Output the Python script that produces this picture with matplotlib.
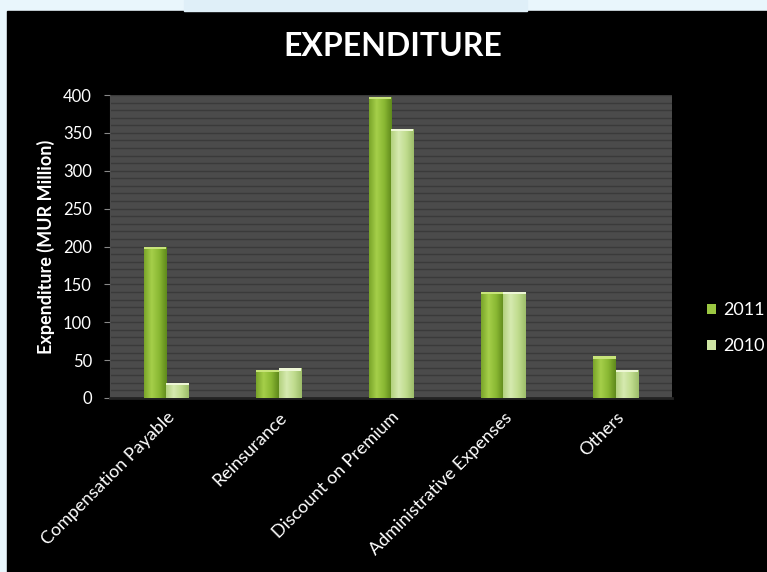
import matplotlib.pyplot as plt
import numpy as np
from matplotlib.patches import Rectangle
from matplotlib.colors import LinearSegmentedColormap

categories = ['Compensation Payable', 'Reinsurance', 'Discount on Premium',
              'Administrative Expenses', 'Others']
exp_2011 = [200, 37, 398, 140, 55]
exp_2010 = [20, 39, 355, 140, 37]
series_names = ['2011', '2010']

plt.rcParams['font.family'] = ['Lato', 'DejaVu Sans']

W, H = 767, 572
fig = plt.figure(figsize=(W / 100, H / 100), dpi=100)
fig.patch.set_facecolor('#e9f6fc')
# black slide panel behind the chart
fig.patches.append(Rectangle((7 / W, 0), 1, (H - 11) / H, transform=fig.transFigure,
                             color='black', zorder=-2))
fig.patches.append(Rectangle((184 / W, (H - 11) / H), (527 - 184) / W, 11 / H,
                             transform=fig.transFigure, color='#dfeff8', zorder=-2))

ax = fig.add_axes([110 / W, 1 - 398 / H, (672 - 110) / W, (398 - 95) / H])
ax.set_facecolor('#4b4b4b')

x = np.arange(len(categories))
w = 0.2
cmap11 = LinearSegmentedColormap.from_list('g11', ['#7aa52a', '#a5cf4a', '#8ab833', '#5f8a1c'])
cmap10 = LinearSegmentedColormap.from_list('g10', ['#b3d17e', '#d6eab0', '#c0dc8e', '#9dbd6a'])
grad = np.linspace(0, 1, 64).reshape(1, -1)

for vals, off, cm, cap, name in [(exp_2011, -w / 2, cmap11, '#c8e47a', series_names[0]),
                                 (exp_2010, w / 2, cmap10, '#eef7d6', series_names[1])]:
    bars = ax.bar(x + off, vals, width=w, color=cm(0.45), label=name, zorder=3)
    for b in bars:
        x0, y0 = b.get_x(), b.get_y()
        bw, bh = b.get_width(), b.get_height()
        im = ax.imshow(grad, cmap=cm, aspect='auto', extent=(x0, x0 + bw, y0, y0 + bh),
                       zorder=3.5)
        im.set_clip_path(b)
        ax.add_patch(Rectangle((x0, y0 + bh - 3), bw, 3, color=cap, zorder=4, lw=0))

ax.set_xlim(-0.5, len(categories) - 0.5)
ax.set_ylim(0, 400)
ax.set_yticks(np.arange(0, 401, 50))
ax.set_yticks(np.arange(0, 401, 10), minor=True)
ax.yaxis.grid(True, which='both', color='#3a3a3a', lw=1, zorder=1)
ax.set_axisbelow(True)
ax.tick_params(axis='y', which='minor', length=0)
ax.tick_params(axis='y', which='major', colors='white', labelsize=12, length=4,
               color='#888888', pad=9)
ax.tick_params(axis='x', length=0, colors='white', labelsize=13, pad=8)
ax.set_xticks(x)
ax.set_xticklabels(categories, rotation=45, ha='right', rotation_mode='anchor')
for s in ['top', 'right']:
    ax.spines[s].set_visible(False)
ax.spines['left'].set_color('#4b4b4b')
ax.spines['bottom'].set_color('#222222')
ax.spines['bottom'].set_linewidth(2)

ax.set_ylabel('Expenditure (MUR Million)', color='white', fontsize=13, fontweight='bold',
              labelpad=6)
fig.text(393 / W, 1 - 47 / H, 'EXPENDITURE', color='white', fontsize=23,
         fontweight='bold', ha='center', va='center')

leg = ax.legend(loc='center left', bbox_to_anchor=(0.062, 0.23),
                bbox_transform=ax.transAxes, frameon=False, borderaxespad=0, borderpad=0,
                labelcolor='white', fontsize=13, handlelength=0.5, handleheight=0.5,
                labelspacing=1.1, handletextpad=0.4)
leg.set_bbox_to_anchor((1.062, 0.23), transform=ax.transAxes)

fig.savefig('out.png', dpi=100, facecolor=fig.get_facecolor())
